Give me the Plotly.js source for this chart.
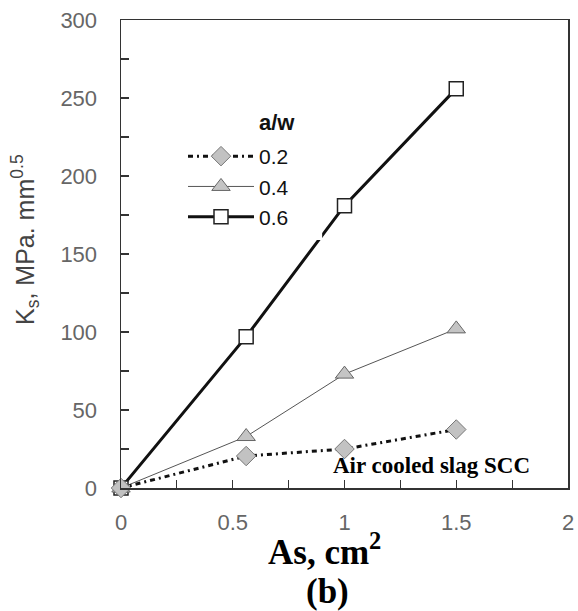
<!DOCTYPE html>
<html>
<head>
<meta charset="utf-8">
<script src="https://cdn.plot.ly/plotly-3.0.1.min.js"></script>
<style>html,body{margin:0;padding:0;background:#fff;}#chart{width:578px;height:611px;}</style>
</head>
<body>
<div id="chart"></div>
<script>
// Data
const asArea = [0, 0.56, 1.0, 1.5];           // As, cm^2
const ks_02 = [0, 20.5, 25, 37.5];            // a/w = 0.2
const ks_04 = [0, 33, 73, 102];               // a/w = 0.4
const ks_06 = [0, 97, 181, 256];              // a/w = 0.6
const seriesNames = ['0.2', '0.4', '0.6'];
const xTickVals = [0, 0.5, 1, 1.5, 2];
const xTickText = ['0', '0.5', '1', '1.5', '2'];
const yTickVals = [0, 50, 100, 150, 200, 250, 300];
const yTickText = ['0', '50', '100', '150', '200', '250', '300'];

const traces = [
  {
    x: asArea, y: ks_06, name: seriesNames[2], type: 'scatter', mode: 'lines+markers',
    line: {color: '#111', width: 3},
    marker: {symbol: 'square', size: 14, color: '#fff', line: {color: '#222', width: 1.5}},
    cliponaxis: false
  },
  {
    x: asArea, y: ks_04, name: seriesNames[1], type: 'scatter', mode: 'lines+markers',
    line: {color: '#555', width: 1},
    marker: {symbol: 'triangle-up', size: 16, color: '#c4c4c4', line: {color: '#666', width: 1}},
    cliponaxis: false
  },
  {
    x: asArea, y: ks_02, name: seriesNames[0], type: 'scatter', mode: 'lines+markers',
    line: {color: '#111', width: 3, dash: '5px,4px,2px,4px'},
    marker: {symbol: 'diamond', size: 15, color: '#c2c2c2', line: {color: '#777', width: 1}},
    cliponaxis: false
  }
];

const tickFont = {family: 'Liberation Sans, Arial, sans-serif', size: 22, color: '#666'};

const layout = {
  width: 578, height: 611,
  margin: {l: 121, r: 10, t: 20, b: 123},
  paper_bgcolor: '#fff', plot_bgcolor: '#fff',
  showlegend: true,
  legend: {
    x: (183 - 121) / 447, y: (488 - 136) / 468, xanchor: 'left', yanchor: 'top',
    traceorder: 'reversed', bgcolor: 'rgba(0,0,0,0)',
    font: {family: 'Liberation Sans, Arial, sans-serif', size: 21, color: '#111'},
    itemwidth: 66
  },
  xaxis: {
    range: [0, 2], tickmode: 'array', tickvals: xTickVals, ticktext: xTickText,
    ticks: 'inside', ticklen: 8, tickcolor: '#333', tickwidth: 1.2,
    minor: {dtick: 0.25, ticks: 'inside', ticklen: 8, tickcolor: '#333', tickwidth: 1.2},
    showline: true, linecolor: '#333', linewidth: 1.5, mirror: true,
    showgrid: false, zeroline: false, tickfont: tickFont, ticklabelstandoff: 14
  },
  yaxis: {
    range: [0, 300], tickmode: 'array', tickvals: yTickVals, ticktext: yTickText,
    ticks: 'inside', ticklen: 8, tickcolor: '#333', tickwidth: 1.2,
    minor: {dtick: 25, ticks: 'inside', ticklen: 8, tickcolor: '#333', tickwidth: 1.2},
    showline: true, linecolor: '#333', linewidth: 1.5, mirror: true,
    showgrid: false, zeroline: false, tickfont: tickFont, ticklabelstandoff: 18
  },
  shapes: [
    {type: 'rect', xref: 'x', yref: 'y', x0: 0.05, x1: 0.9, y0: 159, y1: 285,
     fillcolor: '#fff', line: {width: 0}, layer: 'above'}
  ],
  annotations: [
    {text: '<b>a/w</b>', xref: 'paper', yref: 'paper', x: (257 - 121) / 447, y: (488 - 122) / 468,
     xanchor: 'left', yanchor: 'middle', showarrow: false,
     font: {family: 'Liberation Sans, Arial, sans-serif', size: 22, color: '#111'}},
    {text: 'K<sub>s</sub>, MPa. mm<sup>0.5</sup>', xref: 'paper', yref: 'paper',
     x: (25 - 121) / 447, y: (488 - 240) / 468, textangle: -90,
     xanchor: 'center', yanchor: 'middle', showarrow: false,
     font: {family: 'Liberation Sans, Arial, sans-serif', size: 25, color: '#444'}},
    {text: '<b>Air cooled slag SCC</b>', xref: 'paper', yref: 'paper',
     x: (431 - 121) / 447, y: (488 - 465) / 468, xanchor: 'center', yanchor: 'middle', showarrow: false,
     font: {family: 'Liberation Serif, Times New Roman, serif', size: 23, color: '#000'}},
    {text: '<b>As, cm<sup>2</sup></b>', xref: 'paper', yref: 'paper',
     x: (324 - 121) / 447, y: (488 - 549) / 468, xanchor: 'center', yanchor: 'middle', showarrow: false,
     font: {family: 'Liberation Serif, Times New Roman, serif', size: 35, color: '#000'}},
    {text: '<b>(b)</b>', xref: 'paper', yref: 'paper',
     x: (327 - 121) / 447, y: (488 - 591) / 468, xanchor: 'center', yanchor: 'middle', showarrow: false,
     font: {family: 'Liberation Serif, Times New Roman, serif', size: 35, color: '#000'}}
  ]
};

Plotly.newPlot('chart', traces, layout, {displayModeBar: false, staticPlot: true});
</script>
</body>
</html>
